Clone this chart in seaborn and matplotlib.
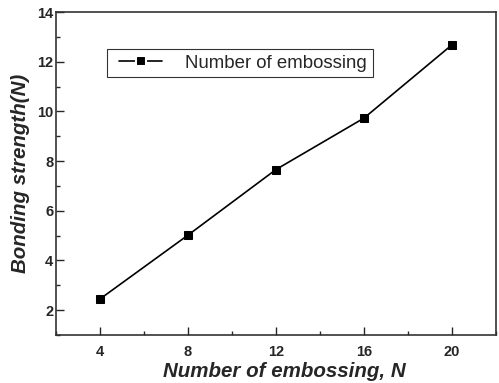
import matplotlib
matplotlib.use("Agg")
import matplotlib.pyplot as plt
from matplotlib.ticker import MultipleLocator
from matplotlib.legend_handler import HandlerLine2D
import seaborn as sns
import pandas as pd

embossing_count = [4, 8, 12, 16, 20]
bonding_strength = [2.45, 5.02, 7.66, 9.73, 12.68]
series_label = "Number of embossing"

sns.set_style("ticks")
plt.rcParams["font.family"] = ["Liberation Sans", "DejaVu Sans"]

df = pd.DataFrame({"n": embossing_count, "strength": bonding_strength})

fig = plt.figure(figsize=(4.99, 3.83), dpi=100)
ax = fig.add_axes([56 / 499, 1 - 335 / 383, 440 / 499, 323 / 383])

sns.lineplot(data=df, x="n", y="strength", ax=ax, color="black",
             marker="s", markersize=6, markeredgecolor="black",
             linewidth=1.2, label=series_label)

ax.set_xlim(2, 22)
ax.set_ylim(1, 14)
ax.xaxis.set_major_locator(MultipleLocator(4))
ax.xaxis.set_minor_locator(MultipleLocator(2))
ax.set_yticks([2, 4, 6, 8, 10, 12, 14])
ax.yaxis.set_minor_locator(MultipleLocator(1))
ax.tick_params(which="major", direction="in", length=6, width=1,
               labelsize=10.5)
ax.tick_params(axis="y", which="major", pad=2)
ax.tick_params(axis="x", which="major", pad=7.5)
ax.tick_params(which="minor", direction="in", length=3, width=1)
for lab in ax.get_xticklabels() + ax.get_yticklabels():
    lab.set_fontweight("bold")

for side in ["top", "right", "left", "bottom"]:
    ax.spines[side].set_visible(True)
    ax.spines[side].set_linewidth(1.2)
    ax.spines[side].set_color("#333333")

ax.set_xlabel("Number of embossing, N", fontsize=14.8, fontweight="bold",
              fontstyle="italic", labelpad=2, x=0.52)
ax.set_ylabel("Bonding strength(N)", fontsize=14.8, fontweight="bold",
              fontstyle="italic", labelpad=5)

line = ax.get_lines()[0]
leg = ax.legend(loc="upper left", bbox_to_anchor=(51 / 440, 1 - 37 / 323),
                frameon=True, fancybox=False, fontsize=13.4, handlelength=2.66,
                borderpad=0.3, handletextpad=1.24, borderaxespad=0,
                handler_map={line: HandlerLine2D(xpad=0.34)})
leg.get_frame().set_edgecolor("black")
leg.get_frame().set_linewidth(0.8)
# small gaps between the legend line and its marker
handle = leg.legend_handles[0]
handle.set_markeredgecolor("white")
handle.set_markeredgewidth(1.5)
handle.set_markersize(7)

fig.savefig("out.png", dpi=100)
